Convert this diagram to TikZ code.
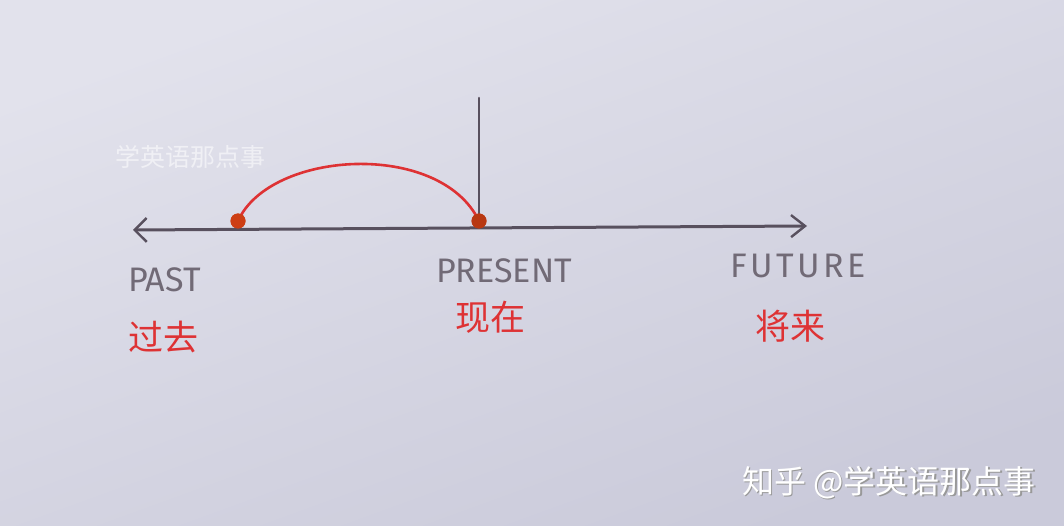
\documentclass[tikz,border=0pt]{standalone}
\usepackage{fontspec}
\setmainfont{Fira Sans}
\newfontfamily\cjk{Noto Sans CJK SC}
\usetikzlibrary{arrows.meta}
\definecolor{paperA}{RGB}{226,226,236}
\definecolor{paperB}{RGB}{202,202,218}
\definecolor{pencil}{RGB}{88,80,94}
\definecolor{redpen}{RGB}{222,50,52}
\definecolor{dotred}{RGB}{205,62,20}
\tikzset{
  axis/.style={draw=pencil, line width=3pt, line cap=round},
  lbl/.style={text=pencil!85, font=\fontsize{34}{34}\selectfont, inner sep=0pt},
  zh/.style={text=redpen, font=\cjk\fontsize{35}{35}\selectfont, inner sep=0pt},
  reddot/.style={circle, fill=dotred, minimum size=15pt, inner sep=0pt},
  wm/.style={text=white, inner sep=0pt, font=\cjk\fontsize{25}{25}\selectfont},
}
\begin{document}
\begin{tikzpicture}[x=1pt,y=-1pt]
\shade[top color=paperA, bottom color=paperB, shading angle=20] (0,0) rectangle (1064,526);
\useasboundingbox (0,0) rectangle (1064,526);
% timeline
\coordinate (L) at (133,230);
\coordinate (R) at (807,226);
\coordinate (Vtop) at (479,98);
\coordinate (Vbot) at (479,223);
\draw[axis, {Straight Barb[length=12pt,width=24pt,line width=2.4pt]}-{Straight Barb[length=14pt,width=22pt,line width=2.4pt]}] (L) -- (R);
\draw[axis, line width=2.6pt] (Vtop) -- (Vbot);
% red arc and dots
\node[reddot] (d1) at (238,221) {};
\node[reddot] (d2) at (479,221) {};
\draw[redpen, line width=2.6pt] (d1.center) .. controls (270,150) and (440,140) .. (d2.center);
\node[reddot] at (238,221) {};
\node[reddot, fill=dotred!90!black] at (479,221) {};
% labels
\node[lbl, anchor=base west] (past) at (128,291) {PAST};
\node[lbl, anchor=base west] (present) at (436,283) {PRESENT};
\node[lbl, anchor=base west] (future) at (730,278) {\addfontfeature{LetterSpace=10}FUTURE};
\node[zh, anchor=base west] (zh1) at (128,350) {过去};
\node[zh, anchor=base west] (zh2) at (455,330) {现在};
\node[zh, anchor=base west] (zh3) at (755,339) {将来};
% watermarks
\node[wm, opacity=0.55, anchor=base west] (wm1) at (115,167) {学英语那点事};
\node[wm, font=\cjk\fontsize{32}{32}\selectfont, anchor=base west] (wm2s) at (743.5,494.5) {\textcolor{black!40}{知乎 @学英语那点事}};
\node[wm, font=\cjk\fontsize{32}{32}\selectfont, anchor=base west] (wm2) at (742,493) {知乎 @学英语那点事};
\end{tikzpicture}
\end{document}
